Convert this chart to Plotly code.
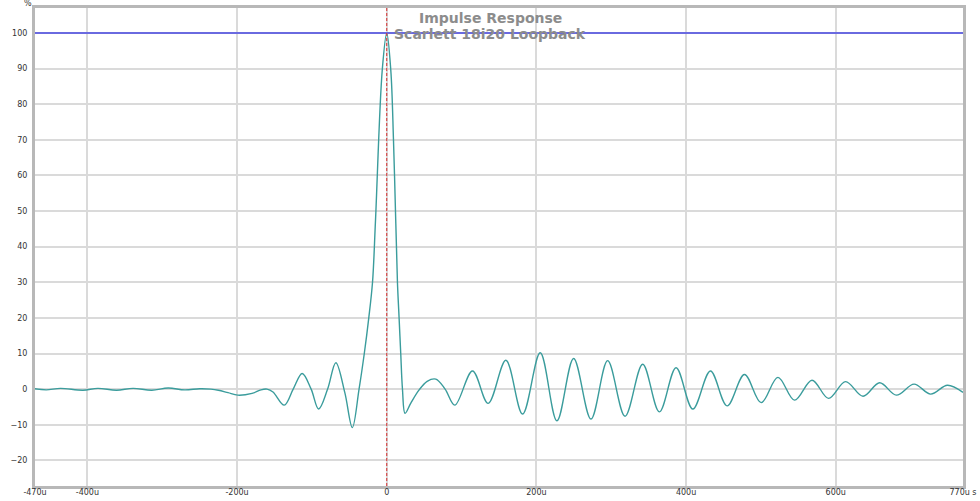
import plotly.graph_objects as go

# Impulse response samples (time in microseconds, level in %)
t_us = [-470, -455, -436, -406, -386, -361, -339, -314, -292, -270, -250, -235, -225, -212,
        -199, -180, -168, -160, -152, -137, -125, -113, -101, -91, -79, -68, -56, -46,
        -37, -30, -24, -19, -15, -6, 0, 5.4, 9, 12, 14.3, 16.5, 18.7, 21, 24.5,
        32, 43, 54, 65.6, 78, 91, 114.6, 135.5, 159.2, 181.5, 205.1, 227.4, 249.7,
        272.9, 295.2, 318.4, 342.0, 364.3, 386.6, 409, 432.5, 454.8, 478, 500.3, 522.7,
        544.9, 568.2, 590.4, 613.1, 636.4, 658.6, 681, 704.6, 726.8, 749.2, 770]
level_pct = [0.1, -0.2, 0.2, -0.3, 0.2, -0.3, 0.2, -0.3, 0.3, -0.2, 0.1, 0.0, -0.3, -1.0,
             -1.7, -1.2, -0.2, 0.0, -0.8, -4.5, 0.0, 4.4, 0.0, -5.6, 0.0, 7.4, -1.0, -10.8,
             0.0, 10.0, 20.0, 30.0, 47.5, 89.6, 100.0, 89.6, 70.0, 47.5, 30.0, 20.0, 10.0, 0.0, -6.8,
             -4.0, -0.3, 2.2, 2.8, 0.0, -4.5, 5.1, -4.0, 8.1, -7.0, 10.2, -8.9, 8.6,
             -8.4, 8.0, -7.6, 7.0, -6.4, 6.0, -5.6, 5.1, -4.7, 4.1, -3.8, 3.3,
             -3.1, 2.5, -2.6, 2.1, -2.0, 1.8, -1.7, 1.4, -1.4, 1.1, -0.9]

x_tickvals = [-470, -400, -200, 0, 200, 400, 600, 770]
x_ticktext = ["-470u", "-400u", "-200u", "0", "200u", "400u", "600u", "770u s"]
y_tickvals = [-20, -10, 0, 10, 20, 30, 40, 50, 60, 70, 80, 90, 100]

fig = go.Figure()
fig.add_trace(go.Scatter(
    x=t_us, y=level_pct, mode="lines",
    line=dict(color="#3a9c9c", width=1.4, shape="spline", smoothing=1.0),
    hoverinfo="skip", showlegend=False))

# reference lines: 100% level and time zero
fig.add_hline(y=100, line=dict(color="#6a6ae0", width=2))
fig.add_vline(x=0, line=dict(color="#d83030", width=1, dash="3px,2px"))

fig.update_layout(
    width=980, height=501,
    margin=dict(l=35, r=17, t=8, b=15, autoexpand=False),
    paper_bgcolor="white", plot_bgcolor="white",
    font=dict(family="DejaVu Sans", size=8, color="#333333"),
    xaxis=dict(range=[-470, 770], tickvals=x_tickvals, ticktext=x_ticktext,
               showgrid=True, gridcolor="#dadada", gridwidth=1.5, automargin=False,
               zeroline=False, showline=True, linecolor="#b8b8b8", linewidth=3,
               mirror=True, ticks="", ticklabelstandoff=-4),
    yaxis=dict(range=[-27.2, 107.0], tickvals=y_tickvals, automargin=False,
               showgrid=True, gridcolor="#dadada", gridwidth=1.5,
               zeroline=False, showline=True, linecolor="#b8b8b8", linewidth=3,
               mirror=True, ticks="", ticklabelstandoff=3),
    annotations=[
        dict(text="<b>Impulse Response</b>", xref="paper", yref="paper", x=0.5, y=1.0,
             xshift=-9, yshift=-10, xanchor="center", yanchor="middle", showarrow=False,
             font=dict(family="DejaVu Sans", size=14, color="#8c8c8c")),
        dict(text="<b>Scarlett 18i20 Loopback</b>", xref="paper", yref="paper", x=0.5, y=1.0,
             xshift=-9, yshift=-26, xanchor="center", yanchor="middle", showarrow=False,
             font=dict(family="DejaVu Sans", size=14, color="#8c8c8c")),
        dict(text="%", xref="paper", yref="paper", x=0, y=1.0, xshift=-7, yshift=5,
             xanchor="center", yanchor="middle", showarrow=False,
             font=dict(family="DejaVu Sans", size=8, color="#333333")),
    ],
)

fig.write_html("out.html", config={"displayModeBar": False},
               post_script="document.body.style.margin='0';document.body.style.overflow='hidden';")
